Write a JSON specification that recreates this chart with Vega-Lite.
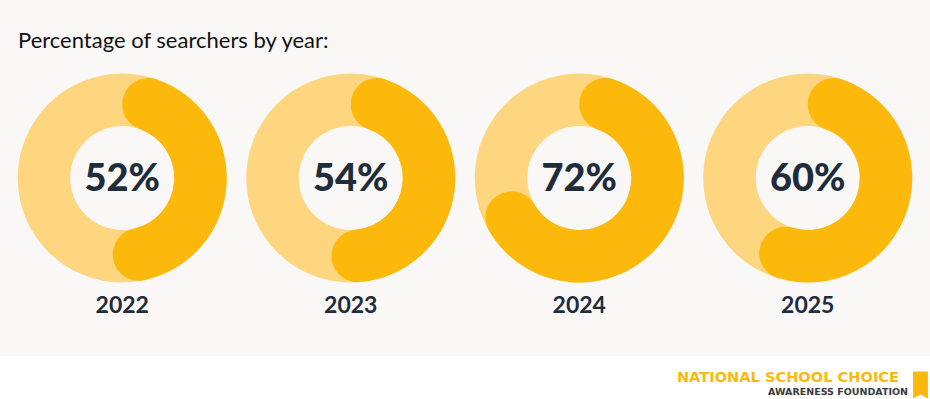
{
  "$schema": "https://vega.github.io/schema/vega-lite/v6.json",
  "width": 930,
  "height": 356,
  "autosize": {"type": "none"},
  "padding": {"left": 0, "top": 0, "right": 0, "bottom": 43},
  "background": "#ffffff",
  "config": {"view": {"fill": "#f9f8f6", "stroke": null}, "font": "Lato"},
  "title": {
    "text": "Percentage of searchers by year:",
    "anchor": "start",
    "frame": "group",
    "orient": "top",
    "offset": -53,
    "dx": 18,
    "fontSize": 22,
    "fontWeight": "normal",
    "color": "#111111",
    "font": "Lato"
  },
  "data": {
    "values": [
      {"year": "2022", "share": 0.52},
      {"year": "2023", "share": 0.54},
      {"year": "2024", "share": 0.72},
      {"year": "2025", "share": 0.60}
    ]
  },
  "layer": [
    {
      "mark": {"type": "arc", "radius": 104.5, "radius2": 52, "theta": 0, "theta2": 6.2832, "color": "#fed680"},
      "encoding": {
        "x": {"field": "year", "type": "ordinal", "scale": {"type": "point", "padding": 0.535}, "axis": null}
      }
    },
    {
      "mark": {"type": "arc", "radius": 104.5, "radius2": 52, "cornerRadius": 26, "color": "#fcb90c"},
      "encoding": {
        "x": {"field": "year", "type": "ordinal", "axis": null},
        "theta": {"field": "share", "type": "quantitative", "scale": {"domain": [0, 1], "range": [0, 6.2832]}, "stack": null}
      }
    },
    {
      "mark": {"type": "text", "fontSize": 38, "fontWeight": 900, "color": "#1f2c3b", "baseline": "alphabetic", "dy": 13},
      "encoding": {
        "x": {"field": "year", "type": "ordinal", "axis": null},
        "text": {"field": "share", "type": "quantitative", "format": ".0%"}
      }
    },
    {
      "mark": {"type": "text", "fontSize": 23, "fontWeight": "bold", "color": "#1f2c3b", "baseline": "alphabetic", "dy": 135},
      "encoding": {
        "x": {"field": "year", "type": "ordinal", "axis": null},
        "text": {"field": "year"}
      }
    },
    {
      "data": {"values": [{"label": "NATIONAL SCHOOL CHOICE"}]},
      "mark": {"type": "text", "font": "DejaVu Sans", "fontSize": 14.6, "fontWeight": "bold", "color": "#fcb90c", "align": "right", "baseline": "alphabetic"},
      "encoding": {
        "x": {"value": 899},
        "y": {"value": 382},
        "text": {"field": "label"}
      }
    },
    {
      "data": {"values": [{"label": "AWARENESS FOUNDATION"}]},
      "mark": {"type": "text", "font": "DejaVu Sans", "fontSize": 9.5, "fontWeight": "bold", "color": "#3a3a3a", "align": "right", "baseline": "alphabetic"},
      "encoding": {
        "x": {"value": 908},
        "y": {"value": 395},
        "text": {"field": "label"}
      }
    },
    {
      "data": {"values": [{"label": "logo"}]},
      "mark": {"type": "point", "shape": "M-0.55,-1L0.55,-1L0.55,1L0,0.7L-0.55,1Z", "filled": true, "size": 729, "color": "#fcb90c", "opacity": 1, "strokeWidth": 0},
      "encoding": {
        "x": {"value": 920.5},
        "y": {"value": 385}
      }
    }
  ]
}
